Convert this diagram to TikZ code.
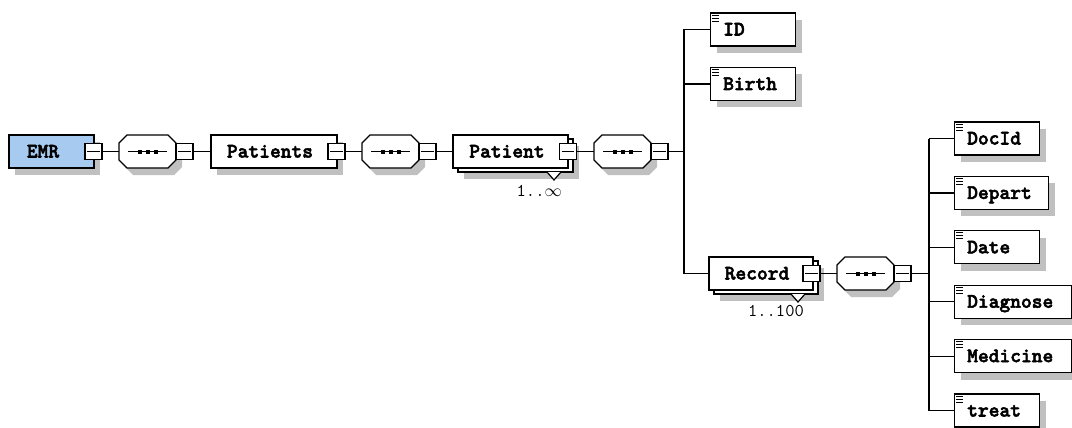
\documentclass[tikz,border=0pt]{standalone}
\usepackage{fontspec}
\newfontfamily\tagfont{lmmonolt10-bold.otf}[FakeBold=2.5]
\usetikzlibrary{shadows}

\definecolor{shadowgray}{RGB}{192,192,192}
\definecolor{rootblue}{RGB}{166,202,240}

\tikzset{
  wire/.style={line width=1.2pt, draw=black},
  outline/.style={line width=1.2pt, draw=black},
  boxshadow/.style={drop shadow={shadow xshift=6pt, shadow yshift=-7pt, fill=shadowgray, opacity=1}},
  elembox/.style={outline, fill=white, inner sep=0pt, minimum height=33pt},
  leafbox/.style={elembox, boxshadow, anchor=west},
  togglebox/.style={outline, fill=white, inner sep=0pt, minimum width=17pt, minimum height=16pt},
  seqframe/.style={inner sep=0pt, minimum width=57pt, minimum height=33pt},
  tagtext/.style={font=\tagfont\fontsize{20.5}{22}\selectfont, inner sep=0pt, anchor=base},
  leaftext/.style={tagtext, anchor=base west},
  occurs/.style={font=\ttfamily\fontsize{18}{20}\selectfont, inner sep=0pt, anchor=base east},
  iconline/.style={line width=0.9pt, draw=black},
}

% octagon outline of a sequence compositor: left x, centre y
\newcommand\octpath[2]{({#1},{#2-8.5}) -- ({#1+8},{#2-16.5}) -- ({#1+49},{#2-16.5}) -- ({#1+57},{#2-8.5}) -- ({#1+57},{#2+8.5}) -- ({#1+49},{#2+16.5}) -- ({#1+8},{#2+16.5}) -- ({#1},{#2+8.5}) -- cycle}

% collapse toggle: name, centre x, centre y
\newcommand\collapser[3]{%
  \node[togglebox] (#1) at (#2,#3) {};
  \draw[outline, line width=1pt] ([xshift=3pt]#1.west) -- ([xshift=-3pt]#1.east);
}

% sequence compositor: name, left x, centre y
\newcommand\seqgroup[3]{%
  \fill[shadowgray] \octpath{#2+6}{#3+7};
  \draw[outline, fill=white] \octpath{#2}{#3};
  \node[seqframe] (#1) at ({#2+28.5},#3) {};
  \draw[outline] ({#2+9},#3) -- ({#2+48},#3);
  \foreach \dx in {-8,0,8} \fill ({#2+28.5+\dx-2},{#3-2}) rectangle +(4,4);
  \collapser{#1m}{#2+65.5}{#3}
}

% leaf element: name, left x, centre y, width, text
\newcommand\leafelem[5]{%
  \node[leafbox, minimum width=#4pt] (#1) at (#2,#3) {};
  \foreach \dy in {2,5,8} \draw[iconline] ({#2+2},{#3-16.5+\dy}) -- ({#2+9},{#3-16.5+\dy});
  \node[leaftext] at ({#2+13},{#3+6}) {#5};
}

\begin{document}
\begin{tikzpicture}[x=1pt,y=-1pt]
\useasboundingbox[fill=white] (0,0) rectangle (1072,428);

% root element
\node[elembox, fill=rootblue, boxshadow, minimum width=85pt] (emr) at (51.5,151.5) {};
\node[tagtext] at (43,157.5) {EMR};
\collapser{emrm}{93.5}{151.5}

\seqgroup{seqa}{119}{151.5}

% Patients
\node[elembox, boxshadow, minimum width=126pt] (patients) at (274,151.5) {};
\node[tagtext] at (270,157.5) {Patients};
\collapser{patientsm}{336.5}{151.5}

\seqgroup{seqb}{362}{151.5}

% Patient (repeating)
\node[elembox, boxshadow, minimum width=115pt] (patientback) at (515.5,155.5) {};
\node[elembox, minimum width=115pt] (patient) at (510.5,151.5) {};
\path[fill=white, outline] (547,172) -- (554,180) -- (561,172);
\node[tagtext] at (507,157.5) {Patient};
\collapser{patientm}{568}{151.5}
\node[occurs] at (562,196) {1..\ensuremath{\infty}};

\seqgroup{seqc}{594}{151.5}
\coordinate (ja) at (684,151.5);

% children of Patient
\leafelem{id}{710}{29.5}{85}{ID}
\leafelem{birth}{710}{84}{85}{Birth}

\node[elembox, boxshadow, minimum width=104pt] (recordback) at (766,277.5) {};
\node[elembox, minimum width=104pt] (record) at (761,273.5) {};
\path[fill=white, outline] (791,294) -- (798,302) -- (805,294);
\node[tagtext] at (757,279.5) {Record};
\collapser{recordm}{811.5}{273.5}
\node[occurs] at (804,316) {1..100};

\seqgroup{seqd}{837}{273.5}
\coordinate (jb) at (929,273.5);

% children of Record
\leafelem{docid}{954}{138.5}{85}{DocId}
\leafelem{depart}{954}{192.9}{94}{Depart}
\leafelem{date}{954}{247.3}{85}{Date}
\leafelem{diagnose}{954}{301.7}{117}{Diagnose}
\leafelem{medicine}{954}{356.1}{117}{Medicine}
\leafelem{treat}{954}{410.5}{85}{treat}

% connectors
\draw[wire] (emrm.east) -- (seqa.west);
\draw[wire] (seqam.east) -- (patients.west);
\draw[wire] (patientsm.east) -- (seqb.west);
\draw[wire] (seqbm.east) -- (patient.west);
\draw[wire] (patientm.east) -- (seqc.west);
\draw[wire] (seqcm.east) -- (ja);
\draw[wire] (ja |- id.west) -- (ja |- record.west);
\foreach \n in {id,birth,record} \draw[wire] (ja |- \n.west) -- (\n.west);
\draw[wire] (recordm.east) -- (seqd.west);
\draw[wire] (seqdm.east) -- (jb);
\draw[wire] (jb |- docid.west) -- (jb |- treat.west);
\foreach \n in {docid,depart,date,diagnose,medicine,treat} \draw[wire] (jb |- \n.west) -- (\n.west);
\end{tikzpicture}
\end{document}
